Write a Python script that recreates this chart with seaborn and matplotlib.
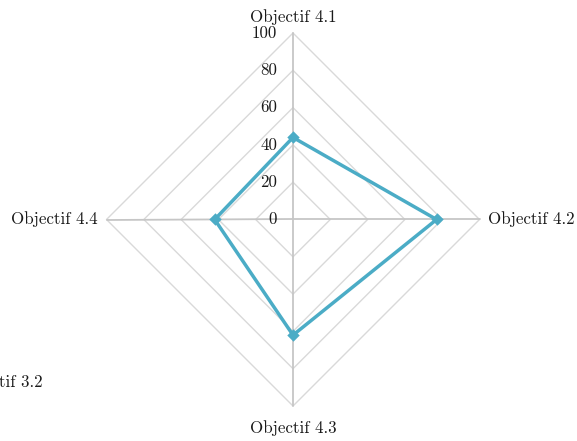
import numpy as np
import pandas as pd
import matplotlib
matplotlib.use("Agg")
import matplotlib.pyplot as plt
import seaborn as sns

categories = ["Objectif 4.1", "Objectif 4.2", "Objectif 4.3", "Objectif 4.4"]
values = [44, 77, 62, 42]
ring_levels = [20, 40, 60, 80, 100]
tick_labels = ["0", "20", "40", "60", "80", "100"]
extra_label = "Objectif 3.2"

sns.set_theme(style="white")
plt.rcParams["font.family"] = ["cmr10", "DejaVu Serif"]
plt.rcParams["axes.formatter.use_mathtext"] = True

fig = plt.figure(figsize=(5.77, 4.41), dpi=100)
ax = fig.add_axes([0, 0, 1, 1])
scale = 1.865  # px per unit
cx, cy = 293, 441 - 219.5
ax.set_xlim(-cx / scale, (577 - cx) / scale)
ax.set_ylim(-cy / scale, (441 - cy) / scale)
ax.set_aspect("equal")
ax.axis("off")

n = len(categories)
angles = np.pi / 2 - np.arange(n) * 2 * np.pi / n

# grid rings
for r in ring_levels:
    xs = np.append(r * np.cos(angles), r * np.cos(angles[0]))
    ys = np.append(r * np.sin(angles), r * np.sin(angles[0]))
    ax.plot(xs, ys, color="#d9d9d9", lw=1.0, zorder=1)
# spokes
for a in angles:
    ax.plot([0, 100 * np.cos(a)], [0, 100 * np.sin(a)], color="#c6c6c6", lw=1.3, zorder=2)

# series
vals = np.array(values, dtype=float)
df = pd.DataFrame({
    "x": np.append(vals * np.cos(angles), vals[0] * np.cos(angles[0])),
    "y": np.append(vals * np.sin(angles), vals[0] * np.sin(angles[0])),
})
color = "#4bacc6"
sns.lineplot(data=df, x="x", y="y", sort=False, estimator=None, ax=ax,
             color=color, lw=2.5, zorder=4)
ax.scatter(df["x"][:-1], df["y"][:-1], marker="D", s=40, color=color, zorder=5, linewidths=0)
ax.set_xlabel("")
ax.set_ylabel("")

txt = "#1a1a1a"
fs = 12.2
# radial tick labels
for i, t in enumerate(tick_labels):
    ax.text(-8.5, i * 20, t, ha="right", va="center", fontsize=fs, color=txt, zorder=6)

# category labels
ax.text(0, 104.5, categories[0], ha="center", va="bottom", fontsize=fs, color=txt)
ax.text(104.5, 0, categories[1], ha="left", va="center", fontsize=fs, color=txt)
ax.text(0, -107.5, categories[2], ha="center", va="top", fontsize=fs, color=txt)
ax.text(-104.5, 0, categories[3], ha="right", va="center", fontsize=fs, color=txt)

# stray label partially outside
fig.text(42.5 / 577, 1 - 382 / 441, extra_label, ha="right", va="center", fontsize=fs, color=txt)

fig.savefig("out.png", dpi=100)
